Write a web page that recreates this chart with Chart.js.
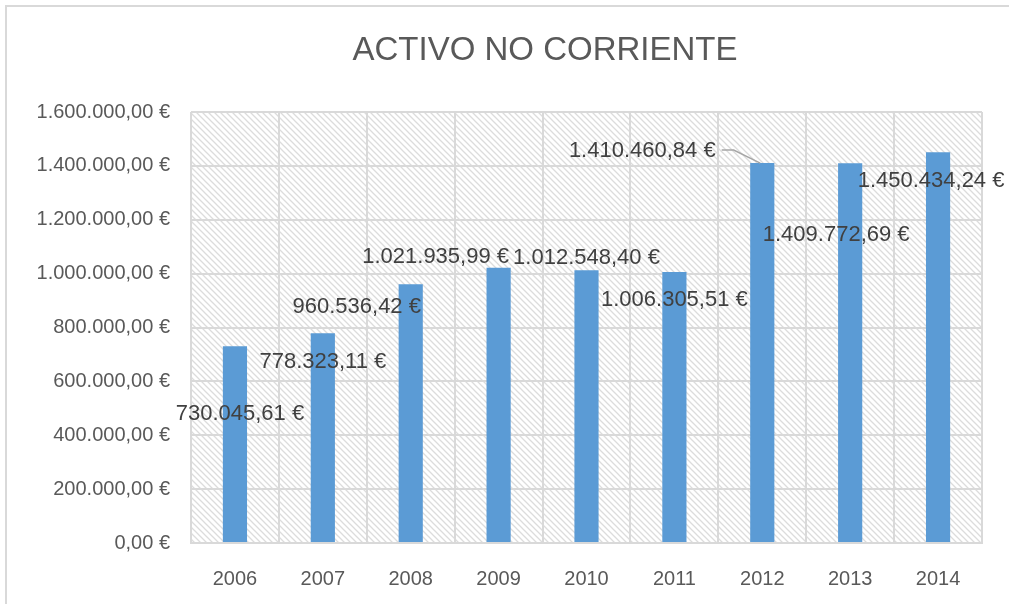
<!DOCTYPE html>
<html>
<head>
<meta charset="utf-8">
<script src="https://cdn.jsdelivr.net/npm/chart.js@4.4.1/dist/chart.umd.min.js"></script>
<style>
    html, body { margin: 0; padding: 0; background: #fff; }
    #wrap { width: 1009px; height: 604px; }
</style>
</head>
<body>
<div id="wrap"><canvas id="chart" width="1009" height="604"></canvas></div>
<script>
const chartTitle = 'ACTIVO NO CORRIENTE';
const years = ['2006', '2007', '2008', '2009', '2010', '2011', '2012', '2013', '2014'];
const values = [730045.61, 778323.11, 960536.42, 1021935.99, 1012548.40, 1006305.51, 1410460.84, 1409772.69, 1450434.24];
const yMax = 1600000;
const yStep = 200000;

// where Excel left each data label, relative to the top centre of its bar (px)
const labelOffsets = [
    [5, 68], [0, 29], [-54, 23], [-63, -11], [0, -12],
    [0, 28], [-120, -12], [-14, 72], [-7, 29]
];
const leaderIndex = 6;

function formatEuro(v) {
    const parts = v.toFixed(2).split('.');
    const intPart = parts[0].replace(/\B(?=(\d{3})+(?!\d))/g, '.');
    return intPart + ',' + parts[1] + ' €';
}

function makeHatch() {
    const s = 6;
    const c = document.createElement('canvas');
    c.width = s;
    c.height = s;
    const g = c.getContext('2d');
    g.fillStyle = '#ffffff';
    g.fillRect(0, 0, s, s);
    g.strokeStyle = '#dcdcdc';
    g.lineWidth = 1.3;
    g.beginPath();
    g.moveTo(-2, -2);
    g.lineTo(s + 2, s + 2);
    g.moveTo(-2, s - 2);
    g.lineTo(2, s + 2);
    g.moveTo(s - 2, -2);
    g.lineTo(s + 2, 2);
    g.stroke();
    return c;
}

const backgroundPlugin = {
    id: 'background',
    beforeDraw(chart) {
        const ctx = chart.ctx;
        const area = chart.chartArea;
        ctx.save();
        ctx.fillStyle = '#ffffff';
        ctx.fillRect(0, 0, chart.width, chart.height);
        ctx.strokeStyle = '#d9d9d9';
        ctx.lineWidth = 2;
        ctx.strokeRect(6, 6, chart.width + 10, chart.height + 10);
        ctx.fillStyle = ctx.createPattern(makeHatch(), 'repeat');
        ctx.fillRect(area.left, area.top, area.right - area.left, area.bottom - area.top);

        ctx.fillStyle = '#595959';
        ctx.font = '33px "Liberation Sans", sans-serif';
        ctx.textAlign = 'center';
        ctx.textBaseline = 'middle';
        ctx.fillText(chartTitle, 545, 51);
        ctx.restore();
    }
};

const labelPlugin = {
    id: 'barLabels',
    afterDatasetsDraw(chart) {
        const ctx = chart.ctx;
        const bars = chart.getDatasetMeta(0).data;
        ctx.save();
        ctx.font = '22px "Liberation Sans", sans-serif';
        ctx.fillStyle = '#404040';
        ctx.textAlign = 'center';
        ctx.textBaseline = 'middle';
        bars.forEach((bar, i) => {
            const x = bar.x + labelOffsets[i][0];
            const y = bar.y + labelOffsets[i][1];
            const text = formatEuro(values[i]);
            ctx.fillText(text, x, y);
            if (i === leaderIndex) {
                const w = ctx.measureText(text).width;
                ctx.strokeStyle = '#a6a6a6';
                ctx.lineWidth = 1.5;
                ctx.beginPath();
                ctx.moveTo(x + w / 2 + 6, y - 1);
                ctx.lineTo(x + w / 2 + 18, y - 1);
                ctx.lineTo(bar.x - 2, bar.y);
                ctx.stroke();
            }
        });
        ctx.restore();
    }
};

new Chart(document.getElementById('chart'), {
    type: 'bar',
    data: {
        labels: years,
        datasets: [{
            data: values,
            backgroundColor: '#5B9BD5',
            borderWidth: 0,
            barPercentage: 0.275,
            categoryPercentage: 1
        }]
    },
    options: {
        responsive: false,
        animation: false,
        devicePixelRatio: 1,
        layout: {
            padding: { top: 112, right: 27, bottom: 0, left: 0 }
        },
        plugins: {
            legend: { display: false },
            tooltip: { enabled: false }
        },
        scales: {
            y: {
                min: 0,
                max: yMax,
                afterFit(scale) { scale.width = 191; },
                ticks: {
                    stepSize: yStep,
                    padding: 21,
                    color: '#595959',
                    font: { family: '"Liberation Sans", sans-serif', size: 20 },
                    callback: (v) => formatEuro(v)
                },
                grid: { color: '#d9d9d9', lineWidth: 2, drawTicks: false },
                border: { display: false }
            },
            x: {
                afterFit(scale) { scale.height = 61; },
                ticks: {
                    padding: 24,
                    color: '#595959',
                    font: { family: '"Liberation Sans", sans-serif', size: 20 }
                },
                grid: { color: '#d9d9d9', lineWidth: 2, drawTicks: false, offset: true },
                border: { color: '#d9d9d9', width: 2 }
            }
        }
    },
    plugins: [backgroundPlugin, labelPlugin]
});
</script>
</body>
</html>
